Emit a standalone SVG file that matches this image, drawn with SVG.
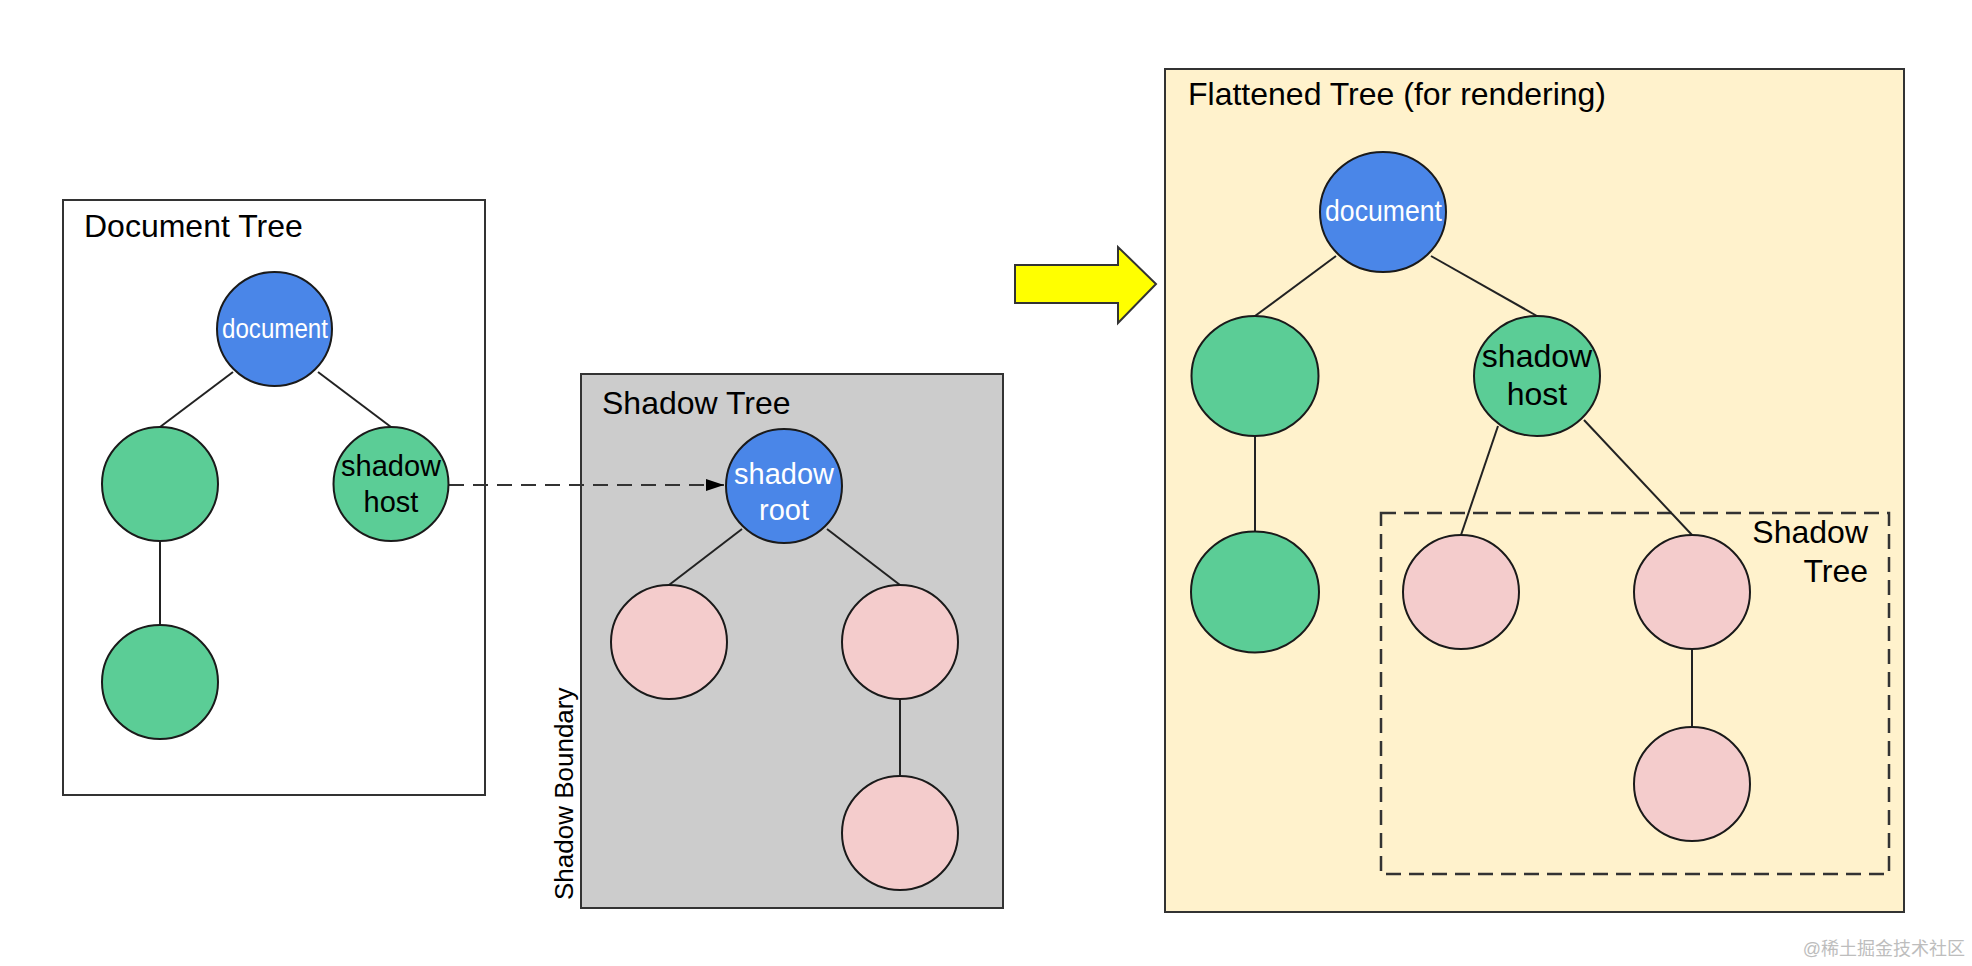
<svg xmlns="http://www.w3.org/2000/svg" width="1972" height="966" viewBox="0 0 1972 966">
<style>
  text { font-family: "Liberation Sans", Arial, sans-serif; }
  .title { font-size: 32px; fill: #000; }
  .box { stroke: #333; stroke-width: 2; }
  .node { stroke: #1a1a1a; stroke-width: 2; }
  .blue { fill: #4a86e8; }
  .green { fill: #5bcd96; }
  .pink { fill: #f4cccc; }
  .edge { stroke: #222; stroke-width: 2; fill: none; }
  .wl { fill: #fff; }
  .bl { fill: #000; }
</style>
<defs>
  <marker id="ah" viewBox="0 0 18 12" refX="18" refY="6" markerWidth="18" markerHeight="12" markerUnits="userSpaceOnUse" orient="auto">
    <path d="M0,0 L18,6 L0,12 Z" fill="#000"/>
  </marker>
</defs>
<rect width="1972" height="966" fill="#fff"/>

<g id="document-tree">
  <rect class="box" x="63" y="200" width="422" height="595" fill="#fff"/>
  <text class="title" x="84" y="237">Document Tree</text>
</g>
<g id="shadow-tree">
  <rect class="box" x="581" y="374" width="422" height="534" fill="#cccccc"/>
  <text class="title" x="602" y="414">Shadow Tree</text>
  <text x="573" y="900" font-size="26" transform="rotate(-90 573 900)">Shadow Boundary</text>
</g>
<g id="flattened-tree">
  <rect class="box" x="1165" y="69" width="739" height="843" fill="#fff2cc"/>
  <text class="title" x="1188" y="105">Flattened Tree (for rendering)</text>
</g>
<g id="flat-shadow-tree">
  <rect x="1381" y="513" width="508" height="361" fill="none" stroke="#333" stroke-width="2.5" stroke-dasharray="15 8"/>
  <text class="title" x="1868" y="543" text-anchor="end">Shadow</text>
  <text class="title" x="1868" y="582" text-anchor="end">Tree</text>
</g>

<g id="connectors">
  <line class="edge" x1="233" y1="372" x2="160" y2="427"/>
  <line class="edge" x1="318" y1="372" x2="391" y2="427"/>
  <line class="edge" x1="160" y1="540" x2="160" y2="625"/>
  <line class="edge" x1="742" y1="529" x2="669" y2="585"/>
  <line class="edge" x1="827" y1="529" x2="900" y2="585"/>
  <line class="edge" x1="900" y1="699" x2="900" y2="777"/>
  <line class="edge" x1="1336" y1="256" x2="1255" y2="316"/>
  <line class="edge" x1="1431" y1="256" x2="1537" y2="316"/>
  <line class="edge" x1="1255" y1="436" x2="1255" y2="532"/>
  <line class="edge" x1="1498" y1="426" x2="1461" y2="535"/>
  <line class="edge" x1="1584" y1="420" x2="1692" y2="535"/>
  <line class="edge" x1="1692" y1="649" x2="1692" y2="727"/>
  <line x1="449" y1="485" x2="724" y2="485" stroke="#333" stroke-width="2" stroke-dasharray="15 9" marker-end="url(#ah)"/>
</g>

<g id="yellow-arrow">
  <path d="M1015,265 L1118,265 L1118,247 L1156,284 L1118,323 L1118,303 L1015,303 Z" fill="#ffff00" stroke="#333" stroke-width="2"/>
</g>

<g id="dt-document">
  <ellipse class="node blue" cx="274.5" cy="329" rx="57.5" ry="57"/>
  <text class="wl" x="275" y="338" font-size="27.5" text-anchor="middle" textLength="106" lengthAdjust="spacingAndGlyphs">document</text>
</g>
<g id="dt-child-left">
  <ellipse class="node green" cx="160" cy="484" rx="58" ry="57"/>
</g>
<g id="dt-shadow-host">
  <ellipse class="node green" cx="391" cy="484" rx="57.5" ry="57"/>
  <text class="bl" x="391" y="476" font-size="29" text-anchor="middle">shadow</text>
  <text class="bl" x="391" y="512" font-size="29" text-anchor="middle">host</text>
</g>
<g id="dt-grandchild">
  <ellipse class="node green" cx="160" cy="682" rx="58" ry="57"/>
</g>

<g id="st-shadow-root">
  <ellipse class="node blue" cx="784" cy="486" rx="58" ry="57"/>
  <text class="wl" x="784" y="484" font-size="29" text-anchor="middle">shadow</text>
  <text class="wl" x="784" y="520" font-size="29" text-anchor="middle">root</text>
</g>
<g id="st-child-left">
  <ellipse class="node pink" cx="669" cy="642" rx="58" ry="57"/>
</g>
<g id="st-child-right">
  <ellipse class="node pink" cx="900" cy="642" rx="58" ry="57"/>
</g>
<g id="st-grandchild">
  <ellipse class="node pink" cx="900" cy="833" rx="58" ry="57"/>
</g>

<g id="ft-document">
  <ellipse class="node blue" cx="1383" cy="212" rx="63" ry="60"/>
  <text class="wl" x="1383.5" y="221" font-size="30" text-anchor="middle" textLength="117" lengthAdjust="spacingAndGlyphs">document</text>
</g>
<g id="ft-child-left">
  <ellipse class="node green" cx="1255" cy="376" rx="63.5" ry="60"/>
</g>
<g id="ft-shadow-host">
  <ellipse class="node green" cx="1537" cy="376" rx="63" ry="60"/>
  <text class="bl" x="1537" y="367" font-size="32" text-anchor="middle">shadow</text>
  <text class="bl" x="1537" y="405" font-size="32" text-anchor="middle">host</text>
</g>
<g id="ft-grandchild">
  <ellipse class="node green" cx="1255" cy="592" rx="64" ry="60.5"/>
</g>
<g id="ft-pink-left">
  <ellipse class="node pink" cx="1461" cy="592" rx="58" ry="57"/>
</g>
<g id="ft-pink-right">
  <ellipse class="node pink" cx="1692" cy="592" rx="58" ry="57"/>
</g>
<g id="ft-pink-bottom">
  <ellipse class="node pink" cx="1692" cy="784" rx="58" ry="57"/>
</g>

<text x="1965" y="955" font-size="18" text-anchor="end" fill="#bdbdbd" style="font-family:'Liberation Sans','Noto Sans CJK SC',sans-serif">@稀土掘金技术社区</text>
</svg>
